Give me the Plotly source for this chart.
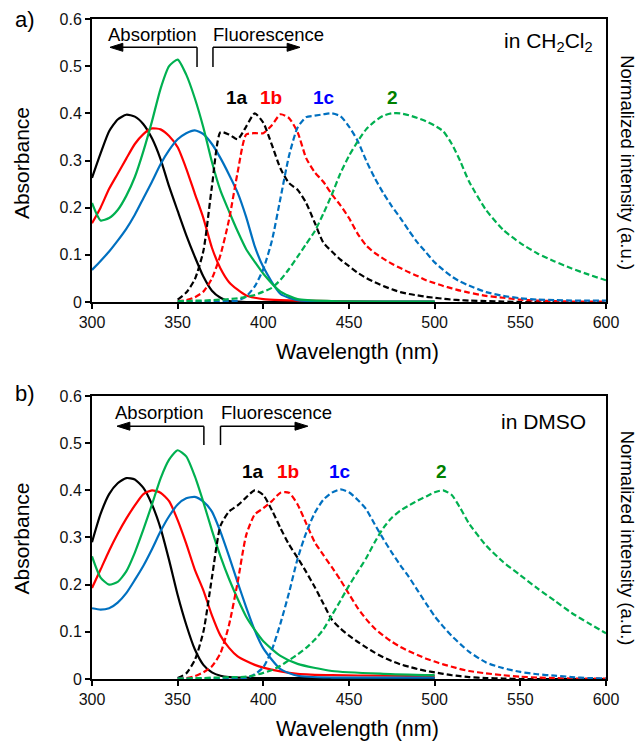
import plotly.graph_objects as go

# ---------------- data ----------------
WL_ABS = [300, 305, 310, 315, 320, 325, 330, 335, 340, 345, 350, 355, 360, 365, 370,
          375, 380, 385, 390, 395, 400, 410, 420, 440, 470, 500]
WL_FL = [350, 355, 360, 365, 370, 375, 380, 385, 390, 395, 400, 405, 410, 415, 420,
         425, 430, 435, 440, 445, 450, 455, 460, 465, 470, 475, 480, 485, 490, 495,
         500, 505, 510, 515, 520, 530, 540, 550, 560, 570, 580, 590, 600]

# (a) CH2Cl2 absorption
dcm_abs_1a = [.263, .315, .362, .387, .397, .393, .377, .347, .303, .245, .193, .142, .096, .054, .024,
              .009, .002, .001, 0, 0, 0, 0, 0, 0, 0, 0]
dcm_abs_1b = [.167, .2, .24, .272, .304, .335, .356, .368, .366, .352, .328, .283, .23, .178, .115,
              .071, .042, .026, .014, .009, .006, .004, .003, .002, .001, .001]
dcm_abs_1c = [.068, .087, .107, .13, .155, .185, .22, .255, .292, .322, .345, .358, .364, .356, .335,
              .305, .27, .232, .18, .118, .074, .017, .004, .001, .001, .001]
dcm_abs_2 = [.21, .173, .178, .195, .225, .265, .32, .383, .452, .5, .514, .482, .432, .37, .297,
             .236, .192, .15, .112, .085, .06, .022, .006, .002, .001, .001]

# (a) CH2Cl2 fluorescence (normalized)
dcm_fl_1a = [.005, .02, .048, .108, .245, .36, .355, .345, .372, .4, .38, .333, .283, .252, .238,
             .21, .168, .126, .107, .09, .076, .062, .051, .042, .034, .027, .021, .017, .014, .011,
             .009, .007, .005, .004, .003, .002, .001, 0, 0, 0, 0, 0, 0]
dcm_fl_1b = [.002, .004, .01, .022, .05, .1, .175, .275, .355, .358, .358, .375, .398, .39, .36,
             .305, .275, .255, .228, .205, .178, .145, .12, .104, .092, .081, .072, .063, .055, .046,
             .04, .034, .029, .024, .02, .013, .009, .005, .003, .002, .001, .001, .001]
dcm_fl_1c = [.001, .001, .001, .001, .001, .001, .002, .003, .012, .033, .07, .13, .22, .31, .37,
             .392, .395, .398, .4, .394, .372, .342, .3, .263, .231, .203, .178, .151, .126, .105,
             .084, .068, .054, .043, .035, .021, .013, .008, .005, .004, .003, .003, .003]
dcm_fl_2 = [.002, .002, .003, .003, .004, .005, .006, .008, .011, .015, .022, .03, .047, .07, .096,
            .123, .15, .187, .228, .273, .31, .34, .366, .383, .395, .4, .4, .396, .39, .383,
            .374, .362, .335, .298, .256, .195, .153, .125, .103, .086, .071, .058, .046]

# (b) DMSO absorption
dmso_abs_1a = [.29, .35, .392, .415, .426, .423, .405, .37, .32, .252, .178, .115, .063, .03, .014,
               .007, .004, .003, .003, .002, .002, .002, .002, .002, .002, .002]
dmso_abs_1b = [.193, .232, .272, .308, .34, .368, .392, .4, .395, .377, .337, .287, .232, .188, .135,
               .092, .066, .048, .038, .03, .024, .016, .011, .008, .007, .006]
dmso_abs_1c = [.15, .147, .15, .162, .182, .21, .24, .275, .313, .345, .37, .383, .386, .376, .355,
               .312, .26, .205, .152, .103, .065, .021, .007, .003, .003, .003]
dmso_abs_2 = [.26, .215, .2, .206, .228, .268, .317, .37, .425, .465, .485, .472, .43, .375, .315,
              .26, .212, .17, .132, .104, .08, .049, .032, .017, .011, .008]

# (b) DMSO fluorescence (normalized)
dmso_fl_1a = [.002, .012, .04, .1, .215, .325, .355, .368, .385, .4, .39, .358, .32, .285, .257,
              .227, .195, .16, .126, .107, .092, .079, .067, .056, .046, .038, .031, .026, .021, .017,
              .014, .011, .008, .006, .004, .002, .001, 0, 0, 0, 0, 0, 0]
dmso_fl_1b = [0, .002, .006, .014, .027, .055, .115, .205, .305, .349, .362, .377, .395, .395, .37,
              .33, .29, .263, .237, .21, .18, .151, .127, .107, .092, .079, .068, .059, .051, .043,
              .037, .031, .026, .021, .017, .012, .008, .005, .003, .002, .001, .001, .001]
dmso_fl_1c = [.001, .001, .001, .001, .001, .001, .001, .001, .002, .01, .025, .062, .118, .183, .255,
              .31, .352, .38, .395, .402, .396, .38, .36, .328, .297, .268, .241, .216, .188, .16,
              .133, .111, .091, .074, .058, .035, .023, .015, .01, .007, .004, .002, .001]
dmso_fl_2 = [.001, .001, .002, .002, .003, .003, .004, .004, .005, .008, .013, .019, .028, .04, .052,
             .066, .083, .105, .135, .166, .198, .227, .256, .29, .32, .342, .357, .368, .378, .387,
             .396, .4, .39, .362, .33, .283, .248, .22, .192, .166, .14, .118, .097]

COMPOUNDS = ["1a", "1b", "1c", "2"]
LINE_COLORS = {"1a": "#000000", "1b": "#FF0000", "1c": "#0070C0", "2": "#00B050"}
LABEL_COLORS = {"1a": "#000000", "1b": "#FF0000", "1c": "#0000FF", "2": "#008000"}

panels = [
    dict(abs={"1a": dcm_abs_1a, "1b": dcm_abs_1b, "1c": dcm_abs_1c, "2": dcm_abs_2},
         fl={"1a": dcm_fl_1a, "1b": dcm_fl_1b, "1c": dcm_fl_1c, "2": dcm_fl_2},
         solvent="in CH<sub>2</sub>Cl<sub>2</sub>", tag="a)",
         label_x={"1a": 384.6, "1b": 404.4, "1c": 435.4, "2": 475.6}, label_y=0.434,
         arr_y=0.540, arr_y0=0.498, abs_x=361.3, abs_tip=310.5, fl_x=370.6, fl_tip=421.4,
         solv_y=0.551, solv_x=593.5),
    dict(abs={"1a": dmso_abs_1a, "1b": dmso_abs_1b, "1c": dmso_abs_1c, "2": dmso_abs_2},
         fl={"1a": dmso_fl_1a, "1b": dmso_fl_1b, "1c": dmso_fl_1c, "2": dmso_fl_2},
         solvent="in DMSO", tag="b)",
         label_x={"1a": 394.2, "1b": 414.3, "1c": 444.7, "2": 504.2}, label_y=0.44,
         arr_y=0.536, arr_y0=0.496, abs_x=365.3, abs_tip=314.6, fl_x=375.0, fl_tip=426.0,
         solv_y=0.545, solv_x=589.4),
]

FONT = "Liberation Sans, Arial, sans-serif"
fig = go.Figure()
shapes = []
annotations = []

for i, p in enumerate(panels):
    xa = "x" if i == 0 else "x2"
    ya = "y" if i == 0 else "y2"
    for c in COMPOUNDS:
        fig.add_trace(go.Scatter(x=WL_ABS, y=p["abs"][c], mode="lines", xaxis=xa, yaxis=ya,
                                 line=dict(color=LINE_COLORS[c], width=2.2, shape="spline", smoothing=0.6),
                                 showlegend=False, hoverinfo="skip"))
    for c in COMPOUNDS:
        fig.add_trace(go.Scatter(x=WL_FL, y=p["fl"][c], mode="lines", xaxis=xa, yaxis=ya,
                                 line=dict(color=LINE_COLORS[c], width=2.2, dash="6px,3px",
                                           shape="spline", smoothing=0.6),
                                 showlegend=False, hoverinfo="skip"))
    for c in COMPOUNDS:
        annotations.append(dict(x=p["label_x"][c], y=p["label_y"], xref=xa, yref=ya, text="<b>%s</b>" % c,
                                showarrow=False, font=dict(family=FONT, size=19, color=LABEL_COLORS[c]),
                                xanchor="center", yanchor="middle"))
    annotations.append(dict(x=p["solv_x"], y=p["solv_y"], xref=xa, yref=ya, text=p["solvent"],
                            showarrow=False, font=dict(family=FONT, size=21, color="black"),
                            xanchor="right", yanchor="middle"))
    annotations.append(dict(x=p["abs_x"], y=p["arr_y"] + 0.028, xref=xa, yref=ya, text="Absorption",
                            showarrow=False, font=dict(family=FONT, size=18.5, color="black"),
                            xanchor="right", yanchor="middle", xshift=1))
    annotations.append(dict(x=p["fl_x"], y=p["arr_y"] + 0.028, xref=xa, yref=ya, text="Fluorescence",
                            showarrow=False, font=dict(family=FONT, size=18.5, color="black"),
                            xanchor="left", yanchor="middle", xshift=-2))
    ln = dict(color="black", width=1.5)
    shapes += [
        dict(type="line", xref=xa, yref=ya, x0=p["abs_x"], x1=p["abs_x"], y0=p["arr_y0"], y1=p["arr_y"], line=ln),
        dict(type="line", xref=xa, yref=ya, x0=p["abs_x"], x1=p["abs_tip"] + 6, y0=p["arr_y"], y1=p["arr_y"], line=ln),
        dict(type="path", xref=xa, yref=ya, fillcolor="black", line=dict(color="black", width=1),
             path="M %f %f L %f %f L %f %f Z" % (p["abs_tip"], p["arr_y"], p["abs_tip"] + 7.5, p["arr_y"] + 0.0085,
                                                 p["abs_tip"] + 7.5, p["arr_y"] - 0.0085)),
        dict(type="line", xref=xa, yref=ya, x0=p["fl_x"], x1=p["fl_x"], y0=p["arr_y0"], y1=p["arr_y"], line=ln),
        dict(type="line", xref=xa, yref=ya, x0=p["fl_x"], x1=p["fl_tip"] - 6, y0=p["arr_y"], y1=p["arr_y"], line=ln),
        dict(type="path", xref=xa, yref=ya, fillcolor="black", line=dict(color="black", width=1),
             path="M %f %f L %f %f L %f %f Z" % (p["fl_tip"], p["arr_y"], p["fl_tip"] - 7.5, p["arr_y"] + 0.0085,
                                                 p["fl_tip"] - 7.5, p["arr_y"] - 0.0085)),
    ]

for tag, y_tag, y_mid, y_xt in [("a)", 0.9992, 0.7818, 0.4955), ("b)", 0.4333, 0.2129, -0.0758)]:
    annotations.append(dict(x=-0.1537, y=y_tag, xref="paper", yref="paper", text=tag, showarrow=False,
                            font=dict(family=FONT, size=22, color="black"), xanchor="left", yanchor="middle"))
    annotations.append(dict(x=-0.138, y=y_mid, xref="paper", yref="paper", text="Absorbance", showarrow=False,
                            textangle=-90, font=dict(family=FONT, size=21, color="black"),
                            xanchor="center", yanchor="middle"))
    annotations.append(dict(x=1.0425, y=y_mid, xref="paper", yref="paper", text="Normalized intensity (a.u.)",
                            showarrow=False, textangle=90, font=dict(family=FONT, size=18.5, color="black"),
                            xanchor="center", yanchor="middle", borderpad=0))
    annotations.append(dict(x=0.5156, y=y_xt, xref="paper", yref="paper", text="Wavelength (nm)",
                            showarrow=False, font=dict(family=FONT, size=21.5, color="black"),
                            xanchor="center", yanchor="middle"))

xax = dict(range=[300, 600], dtick=50, tick0=300, ticks="outside", ticklen=5, tickwidth=1.5,
           tickcolor="black", showline=True, linecolor="black", linewidth=2, mirror=True,
           showgrid=False, zeroline=False, tickfont=dict(family=FONT, size=16, color="#111"))
yax = dict(range=[0, 0.6], dtick=0.1, tick0=0, ticks="outside", ticklen=5, tickwidth=1.5,
           tickcolor="black", showline=True, linecolor="black", linewidth=2, mirror=True,
           showgrid=False, zeroline=False, tickfont=dict(family=FONT, size=16, color="#111"))

fig.update_layout(
    width=638, height=743,
    margin=dict(l=92, r=32, t=19, b=64),
    paper_bgcolor="white", plot_bgcolor="white",
    xaxis=dict(xax, domain=[0, 1], anchor="y"),
    yaxis=dict(yax, domain=[0.5712, 1], anchor="x"),
    xaxis2=dict(xax, domain=[0, 1], anchor="y2"),
    yaxis2=dict(yax, domain=[0, 0.4288], anchor="x2"),
    shapes=shapes, annotations=annotations, showlegend=False,
)

fig.write_html("out.html", config={"displayModeBar": False},
               post_script="document.body.style.margin='0';document.body.style.padding='0';"
                           "document.documentElement.style.overflow='hidden';")
